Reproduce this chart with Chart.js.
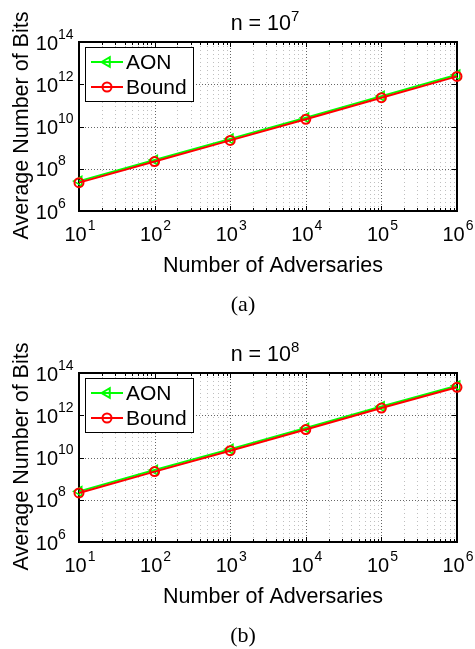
<!DOCTYPE html>
<html>
<head>
<meta charset="utf-8">
<script src="https://cdn.jsdelivr.net/npm/chart.js@4.4.0/dist/chart.umd.min.js"></script>
<style>
  html, body { margin: 0; padding: 0; background: #fff; overflow: hidden; }
  canvas { display: block; }
</style>
</head>
<body>
<canvas id="chartA" width="475" height="331"></canvas>
<canvas id="chartB" width="475" height="318"></canvas>
<script>
// valores
const adversaries = [1e1, 1e2, 1e3, 1e4, 1e5, 1e6];
const aonN7   = [2.6e7, 2.6e8, 2.6e9, 2.6e10, 2.75e11, 2.8e12];
const boundN7 = [2.2e7, 2.2e8, 2.2e9, 2.2e10, 2.3e11, 2.35e12];
const aonN8   = [2.5e8, 2.55e9, 2.5e10, 2.5e11, 2.6e12, 2.5e13];
const boundN8 = [2.1e8, 2.15e9, 2.1e10, 2.1e11, 2.2e12, 2.1e13];
const xTickExps = [1, 2, 3, 4, 5, 6];
const yTickExps = [6, 8, 10, 12, 14];

const SANS = '"Liberation Sans", Arial, Helvetica, sans-serif';
const SERIF = '"Liberation Serif", "Times New Roman", serif';

function linha(ctx, x1, y1, x2, y2) {
  ctx.beginPath();
  ctx.moveTo(x1, y1);
  ctx.lineTo(x2, y2);
  ctx.stroke();
}

// grade, caixa e marcas (estilo MATLAB)
const decor = {
  id: 'decor',
  beforeDatasetsDraw(chart) {
    const ctx = chart.ctx, ca = chart.chartArea;
    const xs = chart.scales.x, ys = chart.scales.y;
    ctx.save();
    ctx.lineWidth = 1;
    // grade vertical
    for (let k = xTickExps[0]; k < xTickExps[xTickExps.length - 1]; k++) {
      for (let m = 1; m <= 9; m++) {
        const v = m * Math.pow(10, k);
        if (v <= xs.min || v >= xs.max) continue;
        const px = Math.round(xs.getPixelForValue(v)) + 0.5;
        ctx.strokeStyle = m === 1 ? 'rgba(0,0,0,0.6)' : 'rgba(0,0,0,0.25)';
        ctx.setLineDash(m === 1 ? [1, 2] : [1, 3]);
        linha(ctx, px, ca.top, px, ca.bottom);
      }
    }
    // grade horizontal
    ctx.strokeStyle = 'rgba(0,0,0,0.6)';
    ctx.setLineDash([1, 2]);
    yTickExps.forEach(e => {
      const v = Math.pow(10, e);
      if (v <= ys.min || v >= ys.max) return;
      const py = Math.round(ys.getPixelForValue(v)) + 0.5;
      linha(ctx, ca.left, py, ca.right, py);
    });
    ctx.setLineDash([]);
    // marcas para dentro
    ctx.strokeStyle = '#000';
    for (let k = xTickExps[0]; k < xTickExps[xTickExps.length - 1]; k++) {
      for (let m = 1; m <= 9; m++) {
        const v = m * Math.pow(10, k);
        if (v <= xs.min) continue;
        const px = Math.round(xs.getPixelForValue(v)) + 0.5;
        const len = m === 1 ? 5 : 3;
        linha(ctx, px, ca.bottom, px, ca.bottom - len);
        linha(ctx, px, ca.top, px, ca.top + len);
      }
    }
    yTickExps.forEach(e => {
      const py = Math.round(ys.getPixelForValue(Math.pow(10, e))) + 0.5;
      linha(ctx, ca.left, py, ca.left + 5, py);
      linha(ctx, ca.right, py, ca.right - 5, py);
    });
    // caixa
    ctx.lineWidth = 2;
    ctx.strokeRect(Math.round(ca.left), Math.round(ca.top), Math.round(ca.width), Math.round(ca.height));
    ctx.restore();
  },
  afterDatasetsDraw(chart) {
    // legenda dentro do gráfico
    const ctx = chart.ctx, ca = chart.chartArea;
    const lx = ca.left + 6, ly = ca.top + 5, lw = 108, lh = 54;
    ctx.save();
    ctx.fillStyle = '#fff';
    ctx.fillRect(lx, ly, lw, lh);
    ctx.strokeStyle = '#000';
    ctx.lineWidth = 1;
    ctx.strokeRect(lx + 0.5, ly + 0.5, lw, lh);
    const itens = chart.data.datasets.slice().sort((a, b) => b.order - a.order);
    itens.forEach((ds, i) => {
      const cy = ly + 15 + i * 25;
      ctx.strokeStyle = ds.borderColor;
      ctx.lineWidth = 2;
      linha(ctx, lx + 6, cy, lx + 38, cy);
      const cx = lx + 22;
      ctx.beginPath();
      if (ds.pointStyle === 'triangle') {
        const r = ds.pointRadius;
        ctx.moveTo(cx - r, cy);
        ctx.lineTo(cx + r / 2, cy - r * 0.866);
        ctx.lineTo(cx + r / 2, cy + r * 0.866);
        ctx.closePath();
      } else {
        ctx.arc(cx, cy, ds.pointRadius, 0, Math.PI * 2);
      }
      ctx.stroke();
      ctx.fillStyle = '#000';
      ctx.font = '21px ' + SANS;
      ctx.textAlign = 'left';
      ctx.textBaseline = 'alphabetic';
      ctx.fillText(ds.label, lx + 41, cy + 7);
    });
    ctx.restore();
  },
  afterDraw(chart, args, opts) {
    const ctx = chart.ctx, ca = chart.chartArea;
    const xs = chart.scales.x, ys = chart.scales.y;
    const mid = (ca.left + ca.right) / 2;
    ctx.save();
    ctx.fillStyle = '#000';
    ctx.textBaseline = 'alphabetic';
    // rótulos do eixo x
    xTickExps.forEach(e => {
      const px = xs.getPixelForValue(Math.pow(10, e));
      ctx.font = '20px ' + SANS;
      const wb = ctx.measureText('10').width;
      ctx.font = '14px ' + SANS;
      const we = ctx.measureText(String(e)).width;
      const x0 = px + 1 - (wb + we + 1) / 2;
      ctx.textAlign = 'left';
      ctx.font = '20px ' + SANS;
      ctx.fillText('10', x0, ca.bottom + 30);
      ctx.font = '14px ' + SANS;
      ctx.fillText(String(e), x0 + wb + 1, ca.bottom + 19);
    });
    // rótulos do eixo y
    yTickExps.forEach(e => {
      const py = ys.getPixelForValue(Math.pow(10, e));
      ctx.font = '20px ' + SANS;
      ctx.textAlign = 'right';
      ctx.fillText('10', ca.left - 21, py + 7.5);
      ctx.font = '14px ' + SANS;
      ctx.textAlign = 'left';
      ctx.fillText(String(e), ca.left - 21, py - 3.5);
    });
    // título com expoente
    ctx.font = '21.5px ' + SANS;
    const tb = 'n = 10';
    const wtb = ctx.measureText(tb).width;
    ctx.font = '15px ' + SANS;
    const wte = ctx.measureText(opts.expoente).width;
    const tx = mid - 3 - (wtb + wte) / 2;
    ctx.textAlign = 'left';
    ctx.font = '21.5px ' + SANS;
    ctx.fillText(tb, tx, ca.top - 12);
    ctx.font = '15px ' + SANS;
    ctx.fillText(opts.expoente, tx + wtb, ca.top - 21);
    // título do eixo x
    ctx.font = '21.5px ' + SANS;
    ctx.textAlign = 'center';
    ctx.fillText('Number of Adversaries', mid + 5, ca.bottom + 61);
    // título do eixo y
    ctx.save();
    ctx.translate(28, (ca.top + ca.bottom) / 2 - 1);
    ctx.rotate(-Math.PI / 2);
    ctx.fillText('Average Number of Bits', 0, 0);
    ctx.restore();
    // legenda (a)/(b)
    ctx.font = '22px ' + SERIF;
    ctx.fillText(opts.legenda, 243, 311);
    ctx.restore();
  }
};

function criarGrafico(id, aon, bound, expoente, legenda, altura) {
  return new Chart(document.getElementById(id).getContext('2d'), {
    type: 'line',
    data: {
      labels: adversaries,
      datasets: [
        {
          label: 'AON',
          data: adversaries.map((x, i) => ({x, y: aon[i]})),
          borderColor: '#00ff00',
          backgroundColor: 'rgba(0,0,0,0)',
          borderWidth: 2,
          pointStyle: 'triangle',
          pointRotation: -90,
          pointRadius: 5.5,
          pointBorderWidth: 1.5,
          pointBorderColor: '#00ff00',
          pointBackgroundColor: 'rgba(0,0,0,0)',
          clip: false,
          order: 2
        },
        {
          label: 'Bound',
          data: adversaries.map((x, i) => ({x, y: bound[i]})),
          borderColor: '#ff0000',
          backgroundColor: 'rgba(0,0,0,0)',
          borderWidth: 2,
          pointStyle: 'circle',
          pointRadius: 4.5,
          pointBorderWidth: 2,
          pointBorderColor: '#ff0000',
          pointBackgroundColor: 'rgba(0,0,0,0)',
          clip: false,
          order: 1
        }
      ]
    },
    options: {
      responsive: false,
      animation: false,
      devicePixelRatio: 1,
      layout: {
        autoPadding: false,
        padding: {left: 79, right: 18, top: 42, bottom: altura - 211}
      },
      scales: {
        x: {
          type: 'logarithmic', min: 1e1, max: 1e6,
          ticks: {display: false},
          grid: {display: false, drawTicks: false},
          border: {display: false}
        },
        y: {
          type: 'logarithmic', min: 1e6, max: 1e14,
          ticks: {display: false},
          grid: {display: false, drawTicks: false},
          border: {display: false}
        }
      },
      plugins: {
        legend: {display: false},
        tooltip: {enabled: false},
        decor: {expoente, legenda}
      }
    },
    plugins: [decor]
  });
}

criarGrafico('chartA', aonN7, boundN7, '7', '(a)', 331);
criarGrafico('chartB', aonN8, boundN8, '8', '(b)', 318);
</script>
</body>
</html>
